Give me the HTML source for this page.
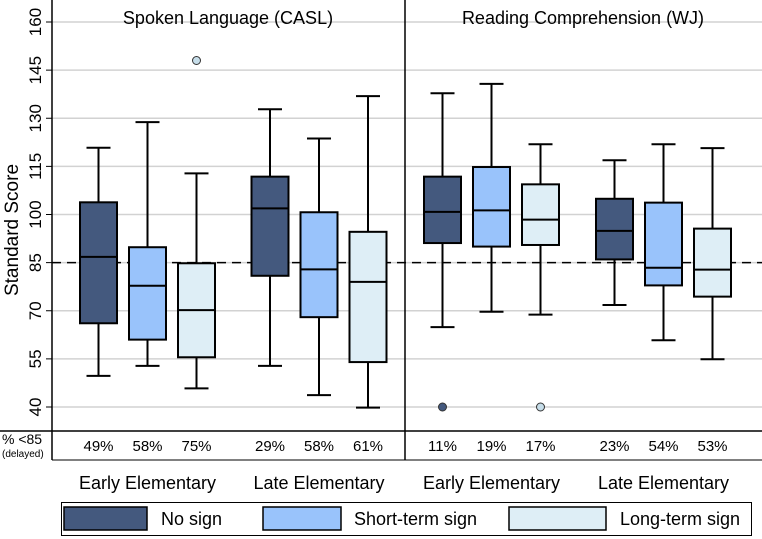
<!DOCTYPE html>
<html><head><meta charset="utf-8"><style>
body{margin:0;background:#fff;}
svg{display:block;font-family:"Liberation Sans",sans-serif;}
</style></head><body>
<svg id="chart" width="762" height="539" viewBox="0 0 762 539">
<g id="grid"></g>
<g id="yaxis"></g>
<g id="boxes"></g>
<line x1="52" y1="0" x2="52" y2="460" stroke="#000" stroke-width="1.5"/>
<line x1="405" y1="0" x2="405" y2="460" stroke="#000" stroke-width="1.5"/>
<line x1="0" y1="431" x2="762" y2="431" stroke="#000" stroke-width="1.5"/>
<line x1="52" y1="460" x2="762" y2="460" stroke="#000" stroke-width="1"/>
<text x="228" y="24" font-size="18" text-anchor="middle">Spoken Language (CASL)</text>
<text x="583" y="24" font-size="18" text-anchor="middle">Reading Comprehension (WJ)</text>
<text transform="translate(18,230) rotate(-90)" font-size="19" text-anchor="middle">Standard Score</text>
<text x="2" y="444" font-size="14">% &lt;85</text>
<text x="2" y="457" font-size="10">(delayed)</text>
<g id="pcts"></g>
<g id="groups"></g>
<g>
<rect x="61.5" y="502.5" width="690" height="33" fill="#fff" stroke="#000" stroke-width="1"/>
<rect x="64" y="507" width="83" height="23" fill="#44597e" stroke="#000" stroke-width="1.5"/>
<text x="161" y="525" font-size="18">No sign</text>
<rect x="263" y="507" width="78" height="23" fill="#99c3fb" stroke="#000" stroke-width="1.5"/>
<text x="354" y="525" font-size="18">Short-term sign</text>
<rect x="509" y="507" width="97" height="23" fill="#deeef6" stroke="#000" stroke-width="1.5"/>
<text x="620" y="525" font-size="18">Long-term sign</text>
</g>
</svg>
<script>
const yTicks=[40,55,70,85,100,115,130,145,160];
const groups=["Early Elementary","Late Elementary","Early Elementary","Late Elementary"];
const pctLabels=["49%","58%","75%","29%","58%","61%","11%","19%","17%","23%","54%","53%"];
const whiskerHigh=[120.8,128.8,112.8,132.8,123.7,136.9,137.8,140.7,121.9,116.9,121.9,120.7];
const q3=[103.8,89.8,84.8,111.8,100.7,94.6,111.8,114.8,109.4,104.9,103.7,95.6];
const median=[86.8,77.8,70.2,101.9,82.9,79.0,100.8,101.3,98.4,94.9,83.4,82.8];
const q1=[66.1,61.0,55.5,80.9,68.0,54.0,91.1,90.0,90.5,86.0,77.9,74.4];
const whiskerLow=[49.7,52.8,45.8,52.8,43.7,39.8,64.9,69.7,68.8,71.8,60.8,54.9];
const outliers=[[2,148],[6,40],[8,40]];
const threshold=85;
const colors=["#44597e","#99c3fb","#deeef6"];
const NS="http://www.w3.org/2000/svg";
function y(v){return 22+(160-v)*385/120;}
function xc(i){const g=Math.floor(i/3),k=i%3;const gx=[98.5,270,442.5,614.5][g];return gx+k*49;}
function el(t,a,p){const e=document.createElementNS(NS,t);for(const k in a)e.setAttribute(k,a[k]);p.appendChild(e);return e;}
const grid=document.getElementById('grid'),yax=document.getElementById('yaxis'),bx=document.getElementById('boxes');
yTicks.forEach(v=>{
 const l=el('line',{x1:52,x2:762,y1:y(v),y2:y(v),stroke:'#d2d2d2','stroke-width':1.5},grid);
 
 
 const t=el('line',{x1:46,x2:52,y1:y(v),y2:y(v),stroke:'#000'},yax);
 
 
 const tx=el('text',{transform:`translate(41,${y(v)}) rotate(-90)`,'font-size':17,'text-anchor':'middle'},yax);
 tx.textContent=v;
 
 
});
const dl=el('line',{x1:52,x2:762,y1:y(threshold),y2:y(threshold),stroke:'#000','stroke-width':1.5,'stroke-dasharray':'9,6'},grid);


const W=37,C=24;
for(let i=0;i<12;i++){
 const x=xc(i),g=el('g',{},bx);
 
 
 const a={stroke:'#000','stroke-width':2};
 el('line',Object.assign({x1:x,x2:x,y1:y(whiskerHigh[i]),y2:y(q3[i])},a),g);
 el('line',Object.assign({x1:x,x2:x,y1:y(q1[i]),y2:y(whiskerLow[i])},a),g);
 el('line',Object.assign({x1:x-C/2,x2:x+C/2,y1:y(whiskerHigh[i]),y2:y(whiskerHigh[i])},a),g);
 el('line',Object.assign({x1:x-C/2,x2:x+C/2,y1:y(whiskerLow[i]),y2:y(whiskerLow[i])},a),g);
 el('rect',{x:x-W/2,y:y(q3[i]),width:W,height:y(q1[i])-y(q3[i]),fill:colors[i%3],stroke:'#000','stroke-width':2},g);
 el('line',Object.assign({x1:x-W/2,x2:x+W/2,y1:y(median[i]),y2:y(median[i])},a),g);
 const p=el('text',{x:x,y:451,'font-size':15,'text-anchor':'middle'},document.getElementById('pcts'));
 p.textContent=pctLabels[i];
 
 
}
outliers.forEach(o=>{
 const c=el('circle',{cx:xc(o[0]),cy:y(o[1]),r:4,fill:o[0]%3===0?colors[0]:'#c6dde9',stroke:'#333','stroke-width':1},bx);
 
 
});
groups.forEach((gname,gi)=>{
 const t=el('text',{x:xc(gi*3+1),y:489,'font-size':18,'text-anchor':'middle'},document.getElementById('groups'));
 t.textContent=gname;
 
 
});
</script>
</body></html>
